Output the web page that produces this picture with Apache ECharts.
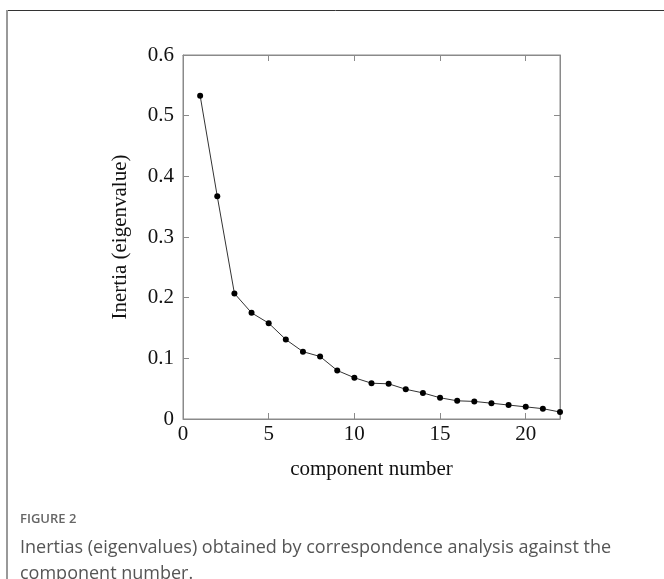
<!DOCTYPE html>
<html>
<head>
<meta charset="utf-8">
<script src="https://cdn.jsdelivr.net/npm/echarts@6/dist/echarts.min.js"></script>
<style>
html,body{margin:0;padding:0;background:#fff;}
#c{width:664px;height:579px;}
</style>
</head>
<body>
<div id="c"></div>
<script>
const componentNumbers = [1,2,3,4,5,6,7,8,9,10,11,12,13,14,15,16,17,18,19,20,21,22];
const inertias = [0.533,0.367,0.207,0.175,0.158,0.131,0.111,0.103,0.080,0.068,0.059,0.058,0.049,0.043,0.035,0.030,0.029,0.026,0.023,0.020,0.017,0.0115];
const xTicks = [0,5,10,15,20];
const yTicks = [0,0.1,0.2,0.3,0.4,0.5,0.6];
const xTitle = 'component number';
const yTitle = 'Inertia (eigenvalue)';
const figLabel = 'FIGURE 2';
const captionLines = ['Inertias (eigenvalues) obtained by correspondence analysis against the','component number.'];

const serif = '"Liberation Serif", "DejaVu Serif", serif';
const axisGray = '#8a8a8a';
const chart = echarts.init(document.getElementById('c'));
const mk = () => ({
  axisLine:{show:true,onZero:false,lineStyle:{color:axisGray,width:1}},
  axisTick:{show:true,inside:true,length:6,lineStyle:{color:axisGray,width:1}},
  splitLine:{show:false}
});
chart.setOption({
  animation:false,
  grid:{left:183,right:104,top:55,bottom:160,show:true,borderColor:axisGray,borderWidth:1,backgroundColor:'transparent'},
  xAxis:[
    Object.assign({type:'value',min:0,max:22,interval:5,position:'bottom',
      name:xTitle,nameLocation:'middle',nameGap:40,
      nameTextStyle:{fontFamily:serif,fontSize:21,color:'#111'},
      axisLabel:{fontFamily:serif,fontSize:21,color:'#111',margin:5,showMaxLabel:false,
        formatter:v=>xTicks.includes(v)?String(v):''}},mk()),
    Object.assign({type:'value',min:0,max:22,interval:5,position:'top',axisLabel:{show:false}},mk())
  ],
  yAxis:[
    Object.assign({type:'value',min:0,max:0.6,interval:0.1,position:'left',
      name:yTitle,nameLocation:'middle',nameGap:52,
      nameTextStyle:{fontFamily:serif,fontSize:21,color:'#111'},
      axisLabel:{fontFamily:serif,fontSize:21,color:'#111',margin:9,
        formatter:v=>{const t=yTicks.find(y=>Math.abs(y-v)<1e-9);return t===undefined?'':(t===0?'0':t.toFixed(1));}}},mk()),
    Object.assign({type:'value',min:0,max:0.6,interval:0.1,position:'right',axisLabel:{show:false}},mk())
  ],
  series:[{
    type:'line',
    data:componentNumbers.map((x,i)=>[x,inertias[i]]),
    symbol:'circle',symbolSize:6,
    itemStyle:{color:'#000'},
    lineStyle:{color:'#333',width:1},
    clip:false
  }],
  graphic:[
    {type:'line',shape:{x1:7,y1:10.5,x2:664,y2:10.5},style:{stroke:'#333',lineWidth:1}},
    {type:'line',shape:{x1:7,y1:10,x2:7,y2:579},style:{stroke:'#999',lineWidth:2}},
    {type:'text',left:20,top:513,style:{text:figLabel,font:'600 13px "Open Sans", sans-serif',fill:'#666'}},
    {type:'text',left:20,top:535,style:{text:captionLines.join('\n'),font:'18px "Open Sans", sans-serif',fill:'#555',lineHeight:26}}
  ]
});
</script>
</body>
</html>
